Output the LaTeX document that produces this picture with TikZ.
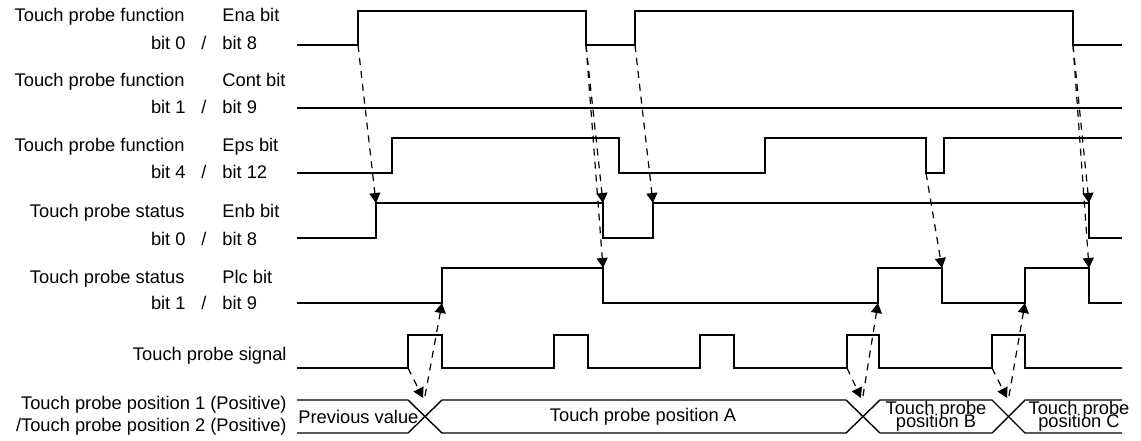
\documentclass[tikz,border=0pt]{standalone}
\usepackage{fontspec}
\setmainfont{Liberation Sans}
\usetikzlibrary{arrows.meta}
\tikzset{
  wave/.style={line width=0.7pt,line join=miter},
  cause/.style={line width=0.6pt,dash pattern=on 3.5pt off 3pt,-{Triangle[length=5pt,width=5.5pt]}},
  lbl/.style={inner sep=0pt,font=\fontsize{9.15}{11}\selectfont},
}

\begin{document}
\begin{tikzpicture}[x=0.5pt,y=-0.5pt]
\useasboundingbox (0,0) rectangle (1141,440);

% signal names
\foreach \yt/\yb/\ttl/\nm/\bl/\br [count=\i] in {
  21/49/Touch probe function/Ena bit/bit 0/bit 8,
  86/113/Touch probe function/Cont bit/bit 1/bit 9,
  151/178/Touch probe function/Eps bit/bit 4/bit 12,
  217/245/Touch probe status/Enb bit/bit 0/bit 8,
  283/309/Touch probe status/Plc bit/bit 1/bit 9}{
  \node[lbl,anchor=base east] (t\i) at (185,\yt) {\ttl};
  \node[lbl,anchor=base west] (n\i) at (222,\yt) {\nm};
  \node[lbl,anchor=base east] (l\i) at (186,\yb) {\bl};
  \node[lbl,anchor=base] (s\i) at (204,\yb) {/};
  \node[lbl,anchor=base west] (r\i) at (222,\yb) {\br};
}
\node[lbl,anchor=base east] (sigT) at (287,360) {Touch probe signal};
\node[lbl,anchor=base east] (pos1) at (287,409) {Touch probe position 1 (Positive)};
\node[lbl,anchor=base east] (pos2) at (287,431) {/Touch probe position 2 (Positive)};

% waveforms
\draw[wave] (297,45) -- (358,45) -- (358,11) -- (586,11) -- (586,45) -- (635,45) -- (635,11) -- (1073,11) -- (1073,45) -- (1122,45);
\draw[wave] (297,108) -- (1122,108);
\draw[wave] (297,173) -- (392,173) -- (392,138) -- (619,138) -- (619,173) -- (765,173) -- (765,138) -- (926,138) -- (926,173) -- (944,173) -- (944,138) -- (1122,138);
\draw[wave] (297,238) -- (376,238) -- (376,203) -- (603,203) -- (603,238) -- (653,238) -- (653,203) -- (1089,203) -- (1089,238) -- (1122,238);
\draw[wave] (297,303) -- (442,303) -- (442,268) -- (603,268) -- (603,303) -- (878,303) -- (878,268) -- (942,268) -- (942,303) -- (1025,303) -- (1025,268) -- (1089,268) -- (1089,303) -- (1122,303);
\draw[wave] (297,368) -- (408,368) -- (408,335) -- (442,335) -- (442,368) -- (554,368) -- (554,335) -- (588,335) -- (588,368) -- (700,368) -- (700,335) -- (734,335) -- (734,368) -- (847,368) -- (847,335) -- (879,335) -- (879,368) -- (992,368) -- (992,335) -- (1025,335) -- (1025,368) -- (1122,368);

% position bus
\draw[wave] (297,400) -- (408,400) -- (442,433) -- (846,433) -- (880,400) -- (992,400) -- (1025,433) -- (1122,433);
\draw[wave] (297,433) -- (408,433) -- (442,400) -- (846,400) -- (880,433) -- (992,433) -- (1025,400) -- (1122,400);
\node[lbl,anchor=west] (prev) at (298,416.5) {Previous value};
\node[lbl] (posA) at (643,416.5) {Touch probe position A};
\node[lbl,anchor=base] (posB) at (936,414) {Touch probe};
\node[lbl,anchor=base] (posBb) at (936,427) {position B};
\node[lbl,anchor=base] (posC) at (1079,414) {Touch probe};
\node[lbl,anchor=base] (posCb) at (1079,427) {position C};

% edges
\coordinate (ena1) at (358,45);
\coordinate (ena2) at (586,45);
\coordinate (ena3) at (635,45);
\coordinate (ena4) at (1073,45);
\coordinate (eps4) at (926,173);
\coordinate (enb1) at (376,203);
\coordinate (enb2) at (603,203);
\coordinate (enb3) at (653,203);
\coordinate (enb4) at (1089,203);
\coordinate (plc1) at (442,303);
\coordinate (plc2) at (603,268);
\coordinate (plc3) at (878,303);
\coordinate (plc4) at (942,268);
\coordinate (plc5) at (1025,303);
\coordinate (plc6) at (1089,268);
\coordinate (sig1) at (408,368);
\coordinate (sig2) at (847,368);
\coordinate (sig3) at (992,368);
\coordinate (inA) at (423,398);
\coordinate (outA) at (425,396);
\coordinate (inB) at (861,398);
\coordinate (outB) at (863,396);
\coordinate (inC) at (1007,398);
\coordinate (outC) at (1009,396);

\draw[cause] (ena1) -- (enb1);
\draw[cause] (ena2) -- (enb2);
\draw[cause] (ena2) -- (plc2);
\draw[cause] (ena3) -- (enb3);
\draw[cause] (ena4) -- (enb4);
\draw[cause] (ena4) -- (plc6);
\draw[cause] (eps4) -- (plc4);
\draw[cause] (sig1) -- (inA);
\draw[cause] (outA) -- (plc1);
\draw[cause] (sig2) -- (inB);
\draw[cause] (outB) -- (plc3);
\draw[cause] (sig3) -- (inC);
\draw[cause] (outC) -- (plc5);
\end{tikzpicture}
\end{document}
